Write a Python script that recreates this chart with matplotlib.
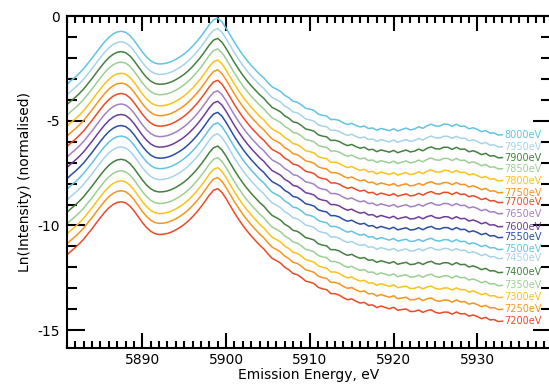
import numpy as np
import matplotlib
matplotlib.use('Agg')
import matplotlib.pyplot as plt
from matplotlib.ticker import MultipleLocator

plt.rcParams['axes.unicode_minus'] = False

# shape of the 8000eV spectrum (0.5 eV steps from 5881)
energy = np.arange(5881.0, 5933.01, 0.5)
profile = np.array([-3.30, -3.12, -2.95, -2.76, -2.55, -2.30, -2.05, -1.78,
                    -1.52, -1.27, -1.06, -0.90, -0.80, -0.77, -0.82, -0.97,
                    -1.20, -1.48, -1.76, -2.00, -2.18, -2.29, -2.33, -2.32,
                    -2.28, -2.21, -2.11, -1.99, -1.85, -1.68, -1.48, -1.26,
                    -1.01, -0.74, -0.45, -0.22, -0.14, -0.32, -0.62, -0.96,
                    -1.30, -1.61, -1.90, -2.16, -2.40, -2.61, -2.82, -2.99,
                    -3.22, -3.42, -3.52, -3.63, -3.82, -3.93, -4.10, -4.14,
                    -4.27, -4.43, -4.47, -4.53, -4.70, -4.76, -4.79, -4.96,
                    -4.95, -5.00, -5.11, -5.19, -5.13, -5.23, -5.30, -5.25,
                    -5.37, -5.34, -5.45, -5.36, -5.41, -5.46, -5.37, -5.47,
                    -5.39, -5.32, -5.40, -5.35, -5.24, -5.31, -5.18, -5.10,
                    -5.18, -5.18, -5.08, -5.09, -5.19, -5.09, -5.19, -5.18,
                    -5.31, -5.26, -5.34, -5.45, -5.39, -5.52, -5.51, -5.61,
                    -5.60])

excitation = [7200, 7250, 7300, 7350, 7400, 7450, 7500, 7550, 7600,
              7650, 7700, 7750, 7800, 7850, 7900, 7950, 8000]
# height of the main peak and of the last point of each curve
peak_level = [-8.24, -7.71, -7.24, -6.76, -6.21, -5.62, -5.10, -4.60, -4.07,
              -3.57, -3.07, -2.57, -2.10, -1.57, -1.07, -0.60, -0.10]
end_level = [-14.57, -14.00, -13.43, -12.86, -12.24, -11.57, -11.14, -10.57, -10.05,
             -9.43, -8.90, -8.43, -7.86, -7.29, -6.76, -6.24, -5.67]
# where along the tail the extra loss of the lower curves builds up
tail_e = [5903, 5912, 5920, 5926, 5933]
tail_w = [0.0, 0.2, 0.5, 1.1, 1.0]

palette = ['#ec4a26', '#f7941d', '#fcc21b', '#9ccf93', '#44803f',
           '#a6d3e9', '#62c3e3', '#2a4ea2', '#6f3d99', '#a282c4']

fig = plt.figure(figsize=(5.49, 3.84), dpi=100)
ax = fig.add_axes([67/549., 36/384., 484/549., 332/384.])

top = profile.max()
for i, (ex, pk, en) in enumerate(zip(excitation, peak_level, end_level)):
    c = palette[i % len(palette)]
    drop = en - (pk + profile[-1] - top)
    y = profile - top + pk + drop*np.interp(energy, tail_e, tail_w)
    ax.plot(energy, y, color=c, linewidth=1.1)
    ax.text(energy[-1] + 0.25, y[-1], '%deV' % ex, color=c, fontsize=7,
            ha='left', va='center')

ax.set_xlim(5881.0, 5938.8)
ax.set_ylim(-15.85, 0)
ax.xaxis.set_major_locator(MultipleLocator(10))
ax.xaxis.set_minor_locator(MultipleLocator(1))
ax.yaxis.set_major_locator(MultipleLocator(5))
ax.yaxis.set_minor_locator(MultipleLocator(1))
ax.tick_params(axis='both', which='both', direction='in', top=True, right=True,
               width=1.5, labelsize=10)
ax.tick_params(axis='x', which='major', length=11, pad=3.5)
ax.tick_params(axis='x', which='minor', length=5)
ax.tick_params(axis='y', which='major', length=13, pad=5)
ax.tick_params(axis='y', which='minor', length=7)
for s in ax.spines.values():
    s.set_linewidth(1.5)

ax.set_xlabel('Emission Energy, eV', fontsize=10, labelpad=1)
ax.set_ylabel('Ln(Intensity) (normalised)', fontsize=10)

fig.savefig('out.png', dpi=100)
